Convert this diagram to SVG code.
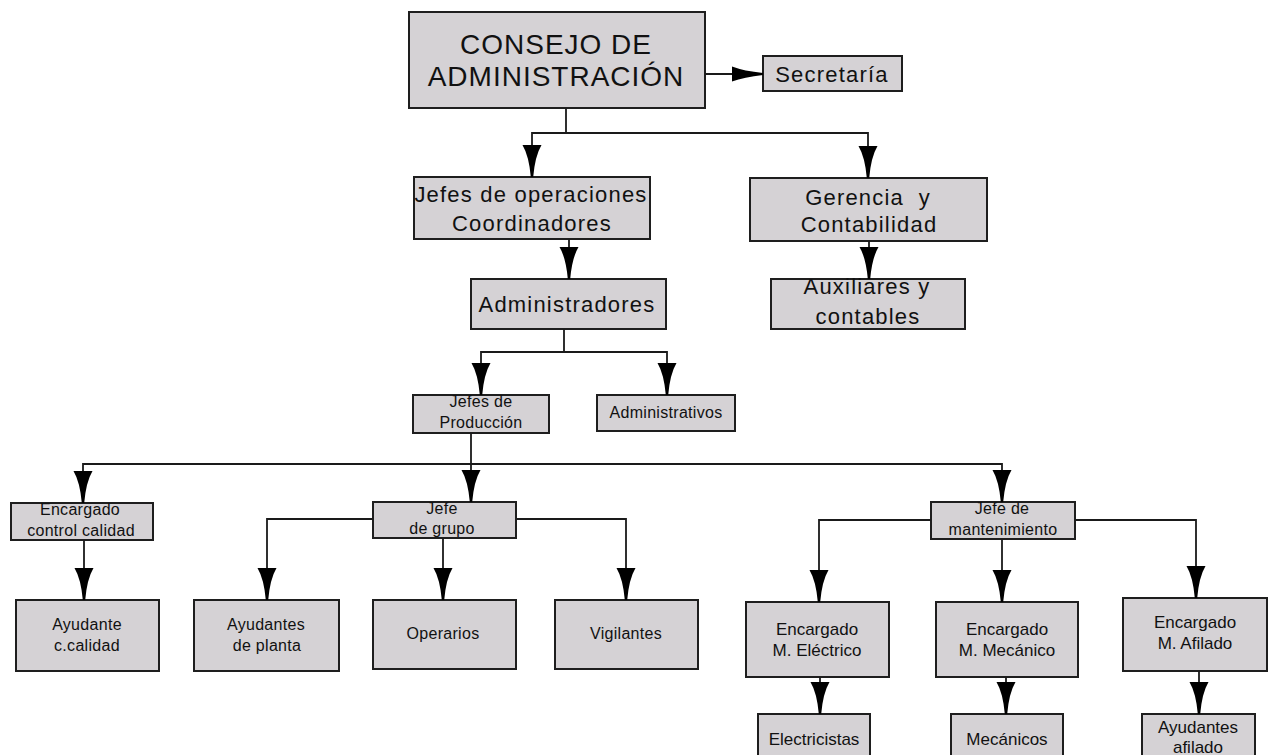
<svg xmlns="http://www.w3.org/2000/svg" width="1269" height="755" viewBox="0 0 1269 755">
<defs>
<marker id="ah" markerUnits="userSpaceOnUse" viewBox="0 -10 32 20" refX="32" refY="0" markerWidth="32" markerHeight="20" orient="auto">
<path d="M0,-9.5 L0,9.5 Q11,3 32,1.2 L32,-1.2 Q11,-3 0,-9.5 Z" fill="#000"/>
</marker>
<marker id="ahs" markerUnits="userSpaceOnUse" viewBox="0 -8 31 16" refX="31" refY="0" markerWidth="31" markerHeight="16" orient="auto">
<path d="M0,-7.5 L0,7.5 Q12,3 31,1 L31,-1 Q12,-3 0,-7.5 Z" fill="#000"/>
</marker>
</defs>
<style>
.box{fill:#d5d2d5;stroke:#1e1e1e;stroke-width:2}
.t{font-family:"Liberation Sans",Arial,sans-serif;fill:#111;text-anchor:middle}
.xl{font-size:28px;letter-spacing:1px}
.l{font-size:22px;letter-spacing:1.2px}
.s{font-size:16px;letter-spacing:0.3px}
.m{font-size:17px}
.c{fill:none;stroke:#1a1a1a;stroke-width:1.8;marker-end:url(#ah)}
.cs{fill:none;stroke:#1a1a1a;stroke-width:1.8;marker-end:url(#ahs)}
</style>
<rect width="1269" height="755" fill="#fff"/>

<g id="consejo"><rect class="box" x="409" y="12" width="296" height="96"/>
<text class="t xl" x="556" y="54">CONSEJO DE</text>
<text class="t xl" x="556" y="86">ADMINISTRACIÓN</text></g>

<g id="secretaria"><rect class="box" x="763" y="56" width="139" height="35"/>
<text class="t l" x="832" y="82">Secretaría</text></g>

<g id="jefes-operaciones"><rect class="box" x="414" y="177" width="236" height="62"/>
<text class="t l" x="531" y="202">Jefes de operaciones</text>
<text class="t l" x="532" y="231">Coordinadores</text></g>

<g id="gerencia"><rect class="box" x="750" y="178" width="237" height="63"/>
<text class="t l" x="868" y="205" xml:space="preserve">Gerencia  y</text>
<text class="t l" x="869" y="232">Contabilidad</text></g>

<g id="administradores"><rect class="box" x="471" y="279" width="195" height="50"/>
<text class="t l" x="567" y="312">Administradores</text></g>

<g id="auxiliares"><rect class="box" x="771" y="279" width="194" height="50"/>
<text class="t l" x="867" y="294">Auxiliares y</text>
<text class="t l" x="868" y="324">contables</text></g>

<g id="jefes-produccion"><rect class="box" x="413" y="395" width="136" height="38"/>
<text class="t s" x="481" y="407">Jefes de</text>
<text class="t s" x="481" y="428">Producción</text></g>

<g id="administrativos"><rect class="box" x="597" y="395" width="138" height="36"/>
<text class="t s" x="666" y="418">Administrativos</text></g>

<g id="encargado-calidad"><rect class="box" x="11" y="503" width="142" height="37"/>
<text class="t s" x="80" y="515">Encargado</text>
<text class="t s" x="81" y="536">control calidad</text></g>

<g id="jefe-grupo"><rect class="box" x="373" y="502" width="143" height="36"/>
<text class="t s" x="442" y="514">Jefe</text>
<text class="t s" x="442" y="534">de grupo</text></g>

<g id="jefe-mantenimiento"><rect class="box" x="931" y="502" width="144" height="37"/>
<text class="t s" x="1002" y="514">Jefe de</text>
<text class="t s" x="1003" y="535">mantenimiento</text></g>

<g id="ayudante-calidad"><rect class="box" x="16" y="600" width="143" height="71"/>
<text class="t s" x="87" y="630">Ayudante</text>
<text class="t s" x="87" y="651">c.calidad</text></g>

<g id="ayudantes-planta"><rect class="box" x="194" y="600" width="145" height="71"/>
<text class="t s" x="266" y="630">Ayudantes</text>
<text class="t s" x="267" y="651">de planta</text></g>

<g id="operarios"><rect class="box" x="373" y="600" width="143" height="69"/>
<text class="t s" x="443" y="639">Operarios</text></g>

<g id="vigilantes"><rect class="box" x="555" y="600" width="143" height="69"/>
<text class="t s" x="626" y="639">Vigilantes</text></g>

<g id="encargado-electrico"><rect class="box" x="746" y="602" width="143" height="75"/>
<text class="t m" x="817" y="635">Encargado</text>
<text class="t m" x="817" y="656">M. Eléctrico</text></g>

<g id="encargado-mecanico"><rect class="box" x="936" y="602" width="142" height="75"/>
<text class="t m" x="1007" y="635">Encargado</text>
<text class="t m" x="1007" y="656">M. Mecánico</text></g>

<g id="encargado-afilado"><rect class="box" x="1123" y="598" width="144" height="73"/>
<text class="t m" x="1195" y="628">Encargado</text>
<text class="t m" x="1195" y="649">M. Afilado</text></g>

<g id="electricistas"><rect class="box" x="758" y="714" width="112" height="50"/>
<text class="t m" x="814" y="745">Electricistas</text></g>

<g id="mecanicos"><rect class="box" x="951" y="714" width="112" height="50"/>
<text class="t m" x="1007" y="745">Mecánicos</text></g>

<g id="ayudantes-afilado"><rect class="box" x="1142" y="714" width="113" height="50"/>
<text class="t m" x="1198" y="733">Ayudantes</text>
<text class="t m" x="1198" y="753">afilado</text></g>

<g id="connectors">
<path class="cs" d="M705,74 H763"/>
<path class="c" d="M566,108 V133 H532 V177"/>
<path class="c" d="M566,133 H868 V178"/>
<path class="c" d="M569,239 V279"/>
<path class="c" d="M869,241 V279"/>
<path class="c" d="M564,329 V352 H481 V395"/>
<path class="c" d="M564,352 H667 V395"/>
<path class="c" d="M471,433 V464 H83 V503"/>
<path class="c" d="M471,464 V502"/>
<path class="c" d="M471,464 H1002 V502"/>
<path class="c" d="M84,540 V600"/>
<path class="c" d="M373,519 H267 V600"/>
<path class="c" d="M443,538 V600"/>
<path class="c" d="M516,519 H626 V600"/>
<path class="c" d="M931,520 H819 V602"/>
<path class="c" d="M1002,539 V602"/>
<path class="c" d="M1075,520 H1196 V598"/>
<path class="c" d="M820,677 V714"/>
<path class="c" d="M1006,677 V714"/>
<path class="c" d="M1199,671 V714"/>
</g>
</svg>
